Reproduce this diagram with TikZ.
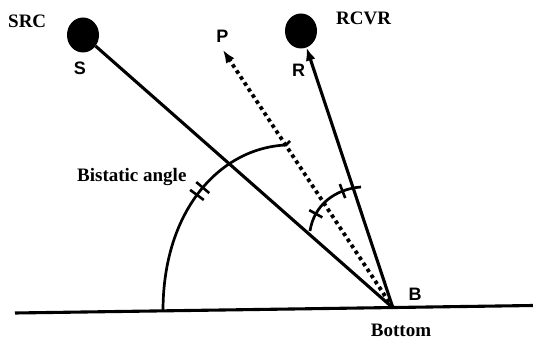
\documentclass[tikz,border=0pt]{standalone}
\usepackage{fontspec}
\setmainfont{Liberation Serif}
\setsansfont{Liberation Sans}
\usetikzlibrary{arrows.meta, shapes.geometric, decorations.markings}

\begin{document}
\begin{tikzpicture}[x=1pt, y=-1pt,
  ln/.style={line width=3.1pt},
  arr/.style={-{Latex[length=13pt, width=10pt]}, line width=3.1pt},
  dots/.style={line width=3.8pt, dash pattern=on 3.6pt off 3.6pt},
  ball/.style={ellipse, fill=black, minimum width=32pt, minimum height=35pt, inner sep=0pt},
  txt/.style={font=\fontsize{19}{22}\selectfont\bfseries, inner sep=0pt},
  pt/.style={font=\fontsize{18}{21}\selectfont\sffamily\bfseries, inner sep=0pt},
  arcline/.style={line width=2.7pt},
  hash/.style={line width=2.6pt}]
\useasboundingbox (0,0) rectangle (533,339);
% ends and vertex
\coordinate (B) at (393,308);
\coordinate (gl) at (15,313);
\coordinate (gr) at (533,305.5);
\coordinate (Ptip) at (223,50);
\node[ball] (S) at (83,35) {};
\node[ball] (R) at (301,31) {};
% labels
\node[txt, anchor=base west] (srctxt) at (8,28) {SRC};
\node[txt, anchor=base west] (rcvrtxt) at (336,25) {RCVR};
\node[pt, anchor=base] (Stxt) at (80,75) {S};
\node[pt, anchor=base] (Rtxt) at (298.5,77) {R};
\node[pt, anchor=base] (Ptxt) at (222.5,43) {P};
\node[pt, anchor=base] (Btxt) at (415,300) {B};
\node[txt, anchor=base west] (bist) at (77,182) {Bistatic angle};
\node[txt, anchor=base] (bot) at (401,336) {Bottom};
% rays
\draw[ln] (gl) -- (gr);
\draw[ln] (S) -- (B);
\draw[arr] (B) -- (R);
\draw[dots, -{Latex[length=13pt, width=10pt]}] (B) -- (Ptip);
% bistatic angle arc
\draw[arcline, postaction={decorate}, decoration={markings,
    mark=at position 0.525 with {\draw[hash] (0pt,-8.5pt) -- (0pt,8.5pt);},
    mark=at position 0.565 with {\draw[hash] (0pt,-8.5pt) -- (0pt,8.5pt);}}]
  (163,311) .. controls (163,210) and (220,148) .. (286,145) -- (290,141);
% half angles
\draw[arcline, postaction={decorate}, decoration={markings,
    mark=at position 0.25 with {\draw[hash] (0pt,-7.5pt) -- (0pt,7.5pt);},
    mark=at position 0.74 with {\draw[hash] (0pt,-7.5pt) -- (0pt,7.5pt);}}]
  (310,231) .. controls (314,205) and (335,189) .. (361,187);
\end{tikzpicture}
\end{document}
